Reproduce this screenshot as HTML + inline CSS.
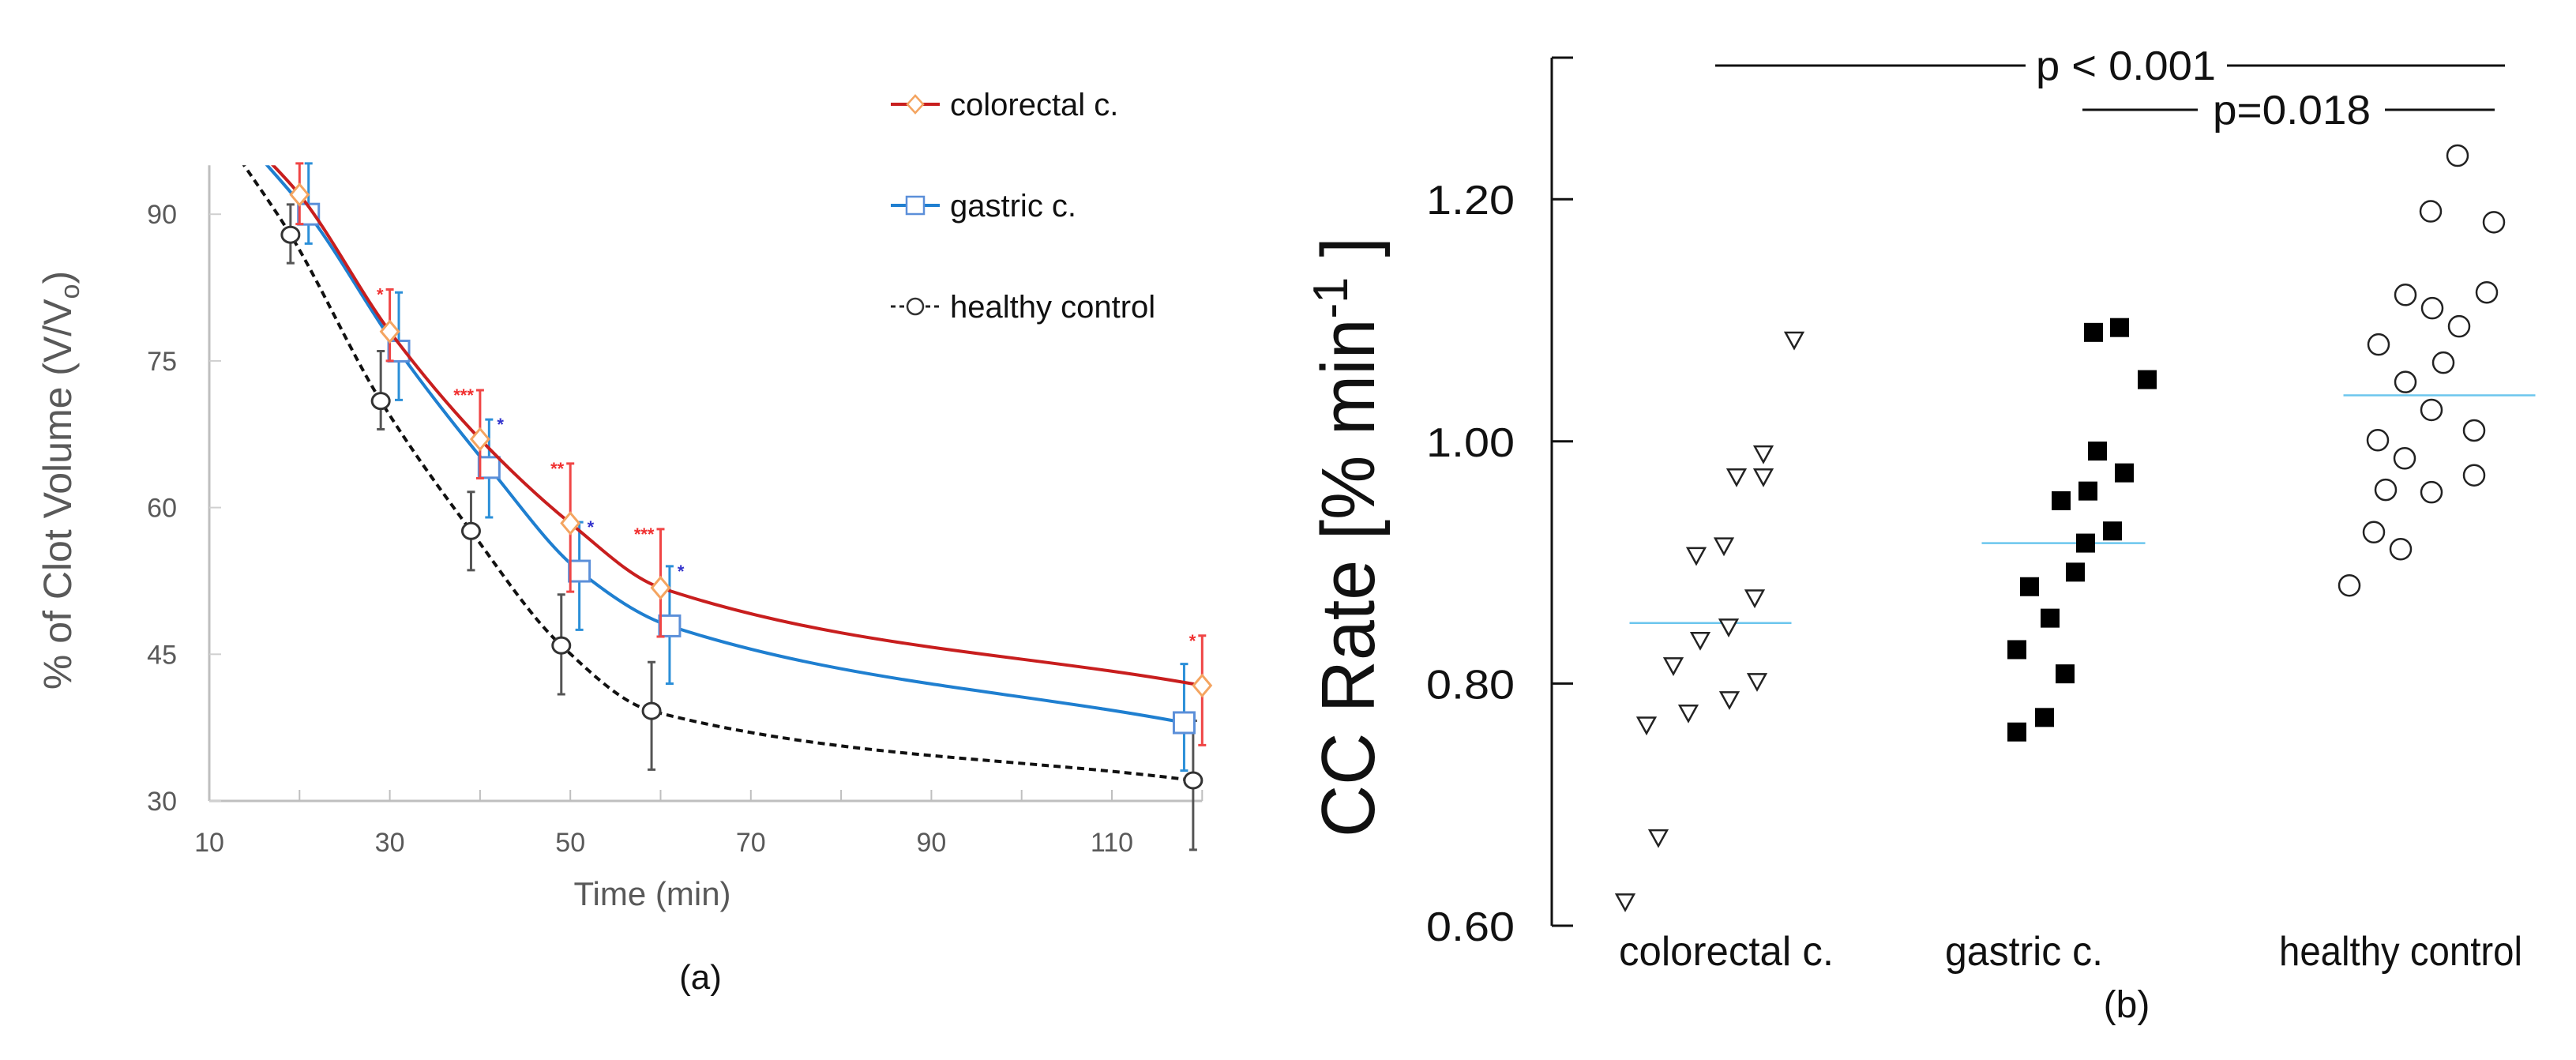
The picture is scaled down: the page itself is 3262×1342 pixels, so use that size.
<!DOCTYPE html>
<html><head><meta charset="utf-8"><style>
html,body{margin:0;padding:0;background:#fff;}
svg{display:block;font-family:"Liberation Sans",Arial,sans-serif;}
</style></head><body>
<svg id="fig" width="3262" height="1342" viewBox="0 0 3262 1342" xmlns="http://www.w3.org/2000/svg">
<g id="chartA"></g>
<g id="chartB"></g>
</svg>
<script>
// ---------- Chart (a) data ----------
const aXTicks = [10, 30, 50, 70, 90, 110];
const aYTicks = [30, 45, 60, 75, 90];
const crTime = [15, 20, 30, 40, 50, 60, 120];
const crVal  = [97, 92, 78, 67, 58.4, 51.8, 41.8];
const crHi   = [null, 96, 82.3, 72, 64.5, 57.8, 46.9];
const crLo   = [null, 89, 75, 63, 51.4, 46.8, 35.7];
const crSig  = ["", "", "*", "***", "**", "***", "*"];
const gaTime = [15, 21, 31, 41, 51, 61, 118];
const gaVal  = [96.5, 90, 76, 64.1, 53.5, 47.9, 38];
const gaHi   = [null, 96, 82, 69, 58.5, 54, 44];
const gaLo   = [null, 87, 71, 59, 47.5, 42, 33.1];
const gaSig  = ["", "", "", "*", "*", "*", ""];
const hcTime = [13.5, 19, 29, 39, 49, 59, 119];
const hcVal  = [95.5, 87.9, 70.9, 57.6, 45.9, 39.2, 32.1];
const hcHi   = [null, 91, 76, 61.6, 51.1, 44.2, 38.2];
const hcLo   = [null, 85, 68, 53.6, 40.9, 33.2, 25];

// ---------- Chart (b) data ----------
const bCategories = ["colorectal c.", "gastric c.", "healthy control"];
const bYTicks = [0.60, 0.80, 1.00, 1.20];
const colorectalVals = [1.084,0.990,0.971,0.971,0.906,0.914,0.871,0.847,0.836,0.815,0.802,0.787,0.776,0.766,0.673,0.620];
const colorectalJit  = [106,67,33,67,-18,17,56,23,-13,-47,59,24,-28,-81,-66,-108];
const gastricVals = [1.090,1.094,1.051,0.992,0.974,0.951,0.959,0.926,0.916,0.892,0.880,0.854,0.828,0.808,0.772,0.760];
const gastricJit  = [38,71,106,43,77,-3,31,62,28,15,-43,-17,-59,2,-24,-59];
const healthyVals = [1.236,1.190,1.181,1.121,1.110,1.123,1.095,1.080,1.065,1.049,1.026,1.009,1.001,0.986,0.960,0.958,0.972,0.925,0.911,0.881];
const healthyJit  = [23,-11,69,-43,-9,60,25,-77,5,-43,-10,44,-78,-44,-68,-10,44,-83,-49,-114];
const groupMeans = [0.850, 0.916, 1.038];
const sigLabels = ["p < 0.001", "p=0.018"];

const NS = "http://www.w3.org/2000/svg";
function mk(parent, tag, attrs, text){
  const e = document.createElementNS(NS, tag);
  for (const k in attrs) e.setAttribute(k, attrs[k]);
  if (text !== undefined) e.textContent = text;
  parent.appendChild(e);
  return e;
}

// ===== Chart A =====
const A = document.getElementById('chartA');
const ax = v => 265 + (v - 10) * 11.43;
const ay = v => 1014 - (v - 30) * 12.38;
const grey = "#595959";

mk(A,'clipPath',{id:'clipA'});
mk(document.getElementById('clipA'),'rect',{x:266,y:ay(95),width:1300,height:ay(20)-ay(95)});

let e;
e = mk(A,'line',{x1:265,y1:ay(95),x2:265,y2:1014,stroke:"#bfbfbf","stroke-width":3});
 
e = mk(A,'line',{x1:265,y1:1014,x2:ax(120),y2:1014,stroke:"#bfbfbf","stroke-width":3});
 
for (let t = 20; t <= 120; t += 10){
  e = mk(A,'line',{x1:ax(t),y1:1014,x2:ax(t),y2:1000,stroke:"#bfbfbf","stroke-width":2});
   
}
aYTicks.forEach(t=>{
  e = mk(A,'line',{x1:265,y1:ay(t),x2:280,y2:ay(t),stroke:"#d0d0d0","stroke-width":2});
   
  e = mk(A,'text',{x:224,y:ay(t)+12,"text-anchor":"end","font-size":34,fill:grey},String(t));
   
});
aXTicks.forEach(t=>{
  e = mk(A,'text',{x:ax(t),y:1078,"text-anchor":"middle","font-size":34,fill:grey},String(t));
   
});
e = mk(A,'text',{x:826,y:1146,"text-anchor":"middle","font-size":42,fill:grey},"Time (min)");
 
e = mk(A,'text',{x:887,y:1252,"text-anchor":"middle","font-size":44,fill:"#111"},"(a)");
 
const yt = mk(A,'text',{transform:"translate(90,608) rotate(-90)","text-anchor":"middle","font-size":50,fill:grey});
 
yt.appendChild(document.createTextNode("% of Clot  Volume (V/V"));
mk(yt,'tspan',{"font-size":34,dy:10},"o");
mk(yt,'tspan',{dy:-10},")");

// monotone cubic (Fritsch-Carlson) in data space
function smoothPath(xs, ys){
  const n = xs.length;
  const d = [], m = new Array(n);
  for (let i=0;i<n-1;i++) d.push((ys[i+1]-ys[i])/(xs[i+1]-xs[i]));
  m[0]=d[0]; m[n-1]=d[n-2];
  for (let i=1;i<n-1;i++){
    if (d[i-1]*d[i] <= 0) m[i]=0;
    else {
      const h0 = xs[i]-xs[i-1], h1 = xs[i+1]-xs[i];
      const w1 = 2*h1+h0, w2 = h1+2*h0;
      m[i] = (w1+w2)/(w1/d[i-1]+w2/d[i]);
    }
  }
  let p = `M${ax(xs[0])},${ay(ys[0])}`;
  for (let i=0;i<n-1;i++){
    const h = xs[i+1]-xs[i];
    const c1x = xs[i]+h/3, c1y = ys[i]+m[i]*h/3;
    const c2x = xs[i+1]-h/3, c2y = ys[i+1]-m[i+1]*h/3;
    p += ` C${ax(c1x)},${ay(c1y)} ${ax(c2x)},${ay(c2y)} ${ax(xs[i+1])},${ay(ys[i+1])}`;
  }
  return p;
}
function series(name, xs, ys, hi, lo, sig, lineColor, errColor, dash, marker, sigColor, sigSide){
  const g = mk(A,'g',{"clip-path":"url(#clipA)"});
   
  const ln = mk(g,'path',{d:smoothPath(xs,ys),fill:"none",stroke:lineColor,"stroke-width":4,"stroke-dasharray":dash?"9 6":"none"});
   
  const g2 = mk(A,'g',{});
  xs.forEach((x,i)=>{
    if (hi[i]===null) return;
    const cx = ax(x), top = ay(Math.min(hi[i],95.2)), bot = ay(lo[i]);
    const eb = mk(g2,'path',{d:`M${cx},${top}V${bot}M${cx-5},${top}H${cx+5}M${cx-5},${bot}H${cx+5}`,stroke:errColor,"stroke-width":3,fill:"none"});
     
    let m;
    const cy = ay(ys[i]);
    if (marker==='diamond') m = mk(g2,'path',{d:`M${cx},${cy-13}L${cx+11},${cy}L${cx},${cy+13}L${cx-11},${cy}Z`,fill:"#fff",stroke:"#f4a460","stroke-width":3});
    else if (marker==='square') m = mk(g2,'rect',{x:cx-13,y:cy-13,width:26,height:26,fill:"#fff",stroke:"#5b8fd9","stroke-width":3});
    else m = mk(g2,'ellipse',{cx:cx,cy:cy,rx:11,ry:10,fill:"#fff",stroke:"#333","stroke-width":3});
     
    if (sig[i]){
      const sx = sigSide<0 ? cx-8 : cx+10;
      const s = mk(g2,'text',{x:sx,y:top+14,"text-anchor":sigSide<0?"end":"start","font-size":22,"font-weight":"bold",fill:sigColor},sig[i]);
       
    }
  });
}
series('healthy-control', hcTime, hcVal, hcHi, hcLo, ["","","","","","",""], "#111", "#555", true, 'circle', "#555", -1);
series('gastric', gaTime, gaVal, gaHi, gaLo, gaSig, "#1f7fd0", "#2b8fd8", false, 'square', "#3333cc", 1);
series('colorectal', crTime, crVal, crHi, crLo, crSig, "#c81e1e", "#f04545", false, 'diamond', "#f03030", -1);

// legend
const legY = [132, 260, 388];
const legTxt = ["colorectal c.", "gastric c.", "healthy control"];
legTxt.forEach((t,i)=>{
  const g = mk(A,'g',{});
   
  const y = legY[i];
  if (i===0){
    mk(g,'line',{x1:1128,y1:y,x2:1190,y2:y,stroke:"#c81e1e","stroke-width":4});
    mk(g,'path',{d:`M1159,${y-11}L1169,${y}L1159,${y+11}L1149,${y}Z`,fill:"#fff",stroke:"#f4a460","stroke-width":2.5});
  } else if (i===1){
    mk(g,'line',{x1:1128,y1:y,x2:1190,y2:y,stroke:"#1f7fd0","stroke-width":4});
    mk(g,'rect',{x:1148,y:y-11,width:22,height:22,fill:"#fff",stroke:"#5b8fd9","stroke-width":2.5});
  } else {
    mk(g,'line',{x1:1128,y1:y,x2:1190,y2:y,stroke:"#222","stroke-width":3,"stroke-dasharray":"6 5"});
    mk(g,'circle',{cx:1159,cy:y,r:10,fill:"#fff",stroke:"#333","stroke-width":2.5});
  }
  mk(g,'text',{x:1203,y:y+14,"font-size":40,fill:"#111"},t);
});

// ===== Chart B =====
const B = document.getElementById('chartB');
const by = v => 1172 - (v - 0.6) * 1533;
const catX = [2166, 2613, 3089];
const catLabelX = [2186, 2563, 3040];

e = mk(B,'line',{x1:1965,y1:73,x2:1965,y2:1172,stroke:"#111","stroke-width":3});
 
e = mk(B,'line',{x1:1965,y1:73,x2:1992,y2:73,stroke:"#111","stroke-width":3});
 
bYTicks.forEach(t=>{
  e = mk(B,'line',{x1:1965,y1:by(t),x2:1992,y2:by(t),stroke:"#111","stroke-width":3});
   
  e = mk(B,'text',{x:1918,y:by(t)+19,"text-anchor":"end","font-size":52,fill:"#111",textLength:112,lengthAdjust:"spacingAndGlyphs"},t.toFixed(2));
   
});
bCategories.forEach((c,i)=>{
  const w = [272, 200, 308][i];
  e = mk(B,'text',{x:catLabelX[i],y:1222,"text-anchor":"middle","font-size":52,fill:"#111",textLength:w,lengthAdjust:"spacingAndGlyphs"},c);
   
});
e = mk(B,'text',{x:2693,y:1288,"text-anchor":"middle","font-size":48,fill:"#111"},"(b)");
 
const ybt = mk(B,'text',{transform:"translate(1740,680) rotate(-90)","text-anchor":"middle","font-size":96,fill:"#111",textLength:760,lengthAdjust:"spacingAndGlyphs"});
 
ybt.appendChild(document.createTextNode("CC Rate [% min"));
mk(ybt,'tspan',{"font-size":62,dy:-34},"-1");
mk(ybt,'tspan',{dy:34}," ]");

// mean lines
const meanW = [205, 207, 243];
groupMeans.forEach((m,i)=>{
  e = mk(B,'line',{x1:catX[i]-meanW[i]/2,y1:by(m),x2:catX[i]+meanW[i]/2,y2:by(m),stroke:"#6cc6ee","stroke-width":2.5});
   
});
colorectalVals.forEach((v,i)=>{
  const x = catX[0]+colorectalJit[i], y = by(v);
  const t = mk(B,'path',{d:`M${x-11},${y-9}L${x+11},${y-9}L${x},${y+11}Z`,fill:"#fff",stroke:"#222","stroke-width":2.5});
   
});
gastricVals.forEach((v,i)=>{
  const x = catX[1]+gastricJit[i], y = by(v);
  const s = mk(B,'rect',{x:x-12,y:y-12,width:24,height:24,fill:"#000"});
   
});
healthyVals.forEach((v,i)=>{
  const x = catX[2]+healthyJit[i], y = by(v);
  const c = mk(B,'circle',{cx:x,cy:y,r:13,fill:"#fff",stroke:"#222","stroke-width":2.5});
   
});
// significance brackets
e = mk(B,'path',{d:"M2172,83H2565M2820,83H3172",stroke:"#111","stroke-width":3});
 
e = mk(B,'text',{x:2692,y:101,"text-anchor":"middle","font-size":52,fill:"#111",textLength:228,lengthAdjust:"spacingAndGlyphs"},sigLabels[0]);
 
e = mk(B,'path',{d:"M2637,139H2783M3020,139H3159",stroke:"#111","stroke-width":3});
 
e = mk(B,'text',{x:2902,y:157,"text-anchor":"middle","font-size":52,fill:"#111",textLength:200,lengthAdjust:"spacingAndGlyphs"},sigLabels[1]);
 
</script>
</body></html>
